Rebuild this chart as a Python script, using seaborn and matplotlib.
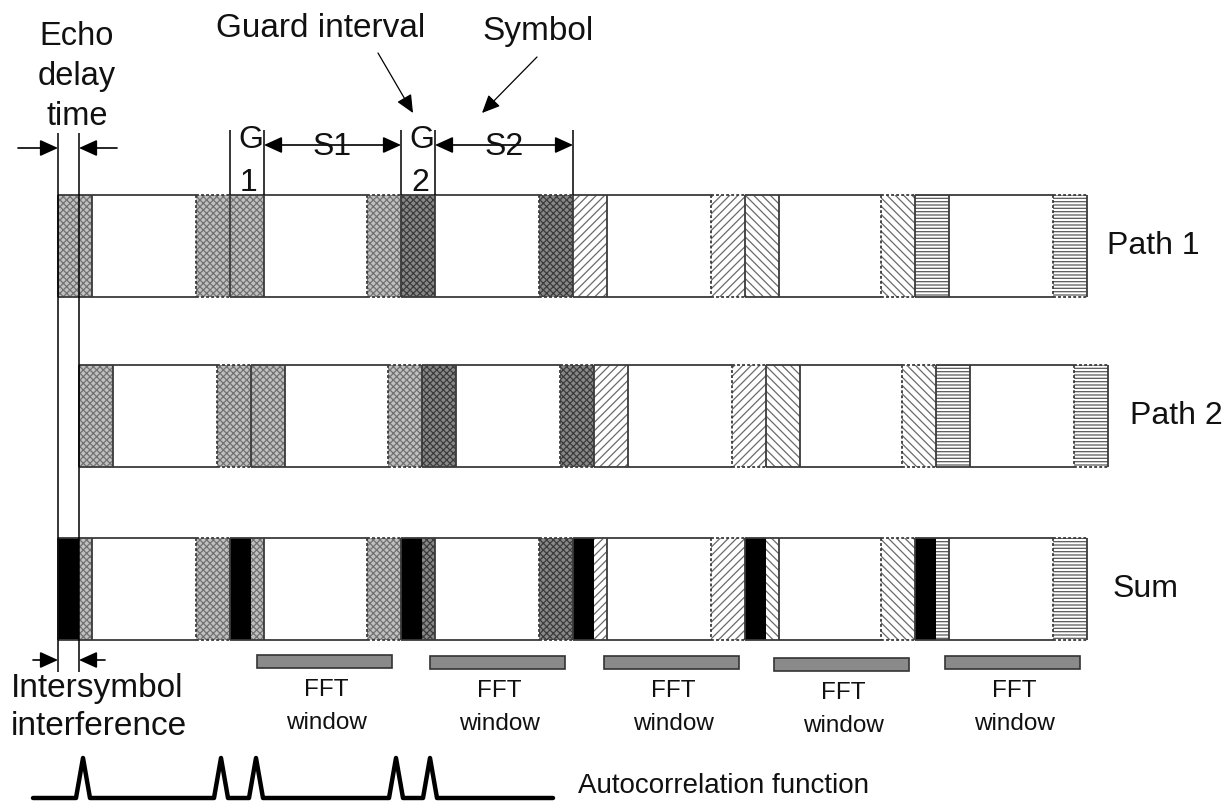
import numpy as np
import pandas as pd
import seaborn as sns
import matplotlib
matplotlib.use("Agg")
import matplotlib.pyplot as plt
from matplotlib.patches import Rectangle

sns.set_theme(style="white")
plt.rcParams["font.family"] = ["Liberation Sans", "DejaVu Sans"]
plt.rcParams["hatch.linewidth"] = 0.9

# ---------------- data (time axis in pixel units of the drawing) ----------------
symbol_starts = [58, 230, 401, 573, 745, 915]      # start of each OFDM symbol on path 1
frame_end = 1087                                   # end of last symbol on path 1
guard_len = 34                                     # guard interval length
echo_delay = 21                                    # delay of path 2
symbol_textures = ["fine", "fine", "dark", "fwd", "back", "horiz"]
row_names = ["Path 1", "Path 2", "Sum"]
row_tops = [195, 365, 538]
row_height = 102
row_label_x = [1107, 1130, 1113]
fft_starts = [257, 430, 604, 774, 945]
fft_len = 135
fft_tops = [655, 656, 656, 658, 656]
acf_peaks = [83, 221, 256, 396, 430]
acf_span = [33, 553]

# ---------------- styles ----------------
TEX = {
    "fine": dict(face="#c0c0c0", hatch="xxxxx", hc="#727272"),
    "dark": dict(face="#888888", hatch="xxxxx", hc="#3c3c3c"),
    "fwd": dict(face="white", hatch="////", hc="#6a6a6a"),
    "back": dict(face="white", hatch="\\\\\\\\", hc="#6a6a6a"),
    "horiz": dict(face="white", hatch="-----", hc="#5a5a5a"),
}
FRAME = "#3a3a3a"
TXT = "#111111"

fig = plt.figure(figsize=(12.28, 8.02), dpi=100)
ax = fig.add_axes([0, 0, 1, 1])


def fill(x0, x1, y0, h, kind):
    if kind == "white":
        ax.add_patch(Rectangle((x0, y0), x1 - x0, h, facecolor="white", edgecolor="none", zorder=1))
    elif kind == "black":
        ax.add_patch(Rectangle((x0, y0), x1 - x0, h, facecolor="black", edgecolor="none", zorder=1))
    else:
        t = TEX[kind]
        ax.add_patch(Rectangle((x0, y0), x1 - x0, h, facecolor=t["face"], edgecolor=t["hc"],
                               hatch=t["hatch"], lw=0, zorder=1))


def hseg(x0, x1, y, ls):
    ax.plot([x0, x1], [y, y], color=FRAME, lw=1.3, ls=ls, solid_capstyle="butt", zorder=3)


def vseg(x, y0, y1, ls, color=FRAME, lw=1.3):
    ax.plot([x, x], [y0, y1], color=color, lw=lw, ls=ls, solid_capstyle="butt", zorder=3)


DOT = (0, (1.6, 1.2))

for r, top in enumerate(row_tops):
    off = echo_delay if r == 1 else 0
    bot = top + row_height
    n = len(symbol_starts)
    for k in range(n):
        s = symbol_starts[k] + off
        e = (symbol_starts[k + 1] if k + 1 < n else frame_end) + off
        tex = symbol_textures[k]
        segs = []
        if r == 2:
            segs.append((s, s + echo_delay, "black", "-"))
            segs.append((s + echo_delay, s + guard_len, tex, "-"))
        else:
            segs.append((s, s + guard_len, tex, "-"))
        segs.append((s + guard_len, e - guard_len, "white", "-"))
        segs.append((e - guard_len, e, tex, DOT))
        for x0, x1, kind, ls in segs:
            fill(x0, x1, top, row_height, kind)
            hseg(x0, x1, top, ls)
            hseg(x0, x1, bot, ls)
        vseg(s, top, bot, "-")
        vseg(s + guard_len, top, bot, "-")
        vseg(e - guard_len, top, bot, DOT)
        if k == n - 1:
            vseg(e, top, bot, "-")
    ax.text(row_label_x[r], top + row_height / 2, row_names[r], fontsize=23, color=TXT,
            ha="left", va="center")

# ---------------- FFT windows ----------------
for x0, y0 in zip(fft_starts, fft_tops):
    ax.add_patch(Rectangle((x0, y0), fft_len, 13, facecolor="#8a8a8a", edgecolor="#333333",
                           lw=1.2, zorder=2))
    cx = x0 + fft_len / 2 + 2
    ax.text(cx, y0 + 41, "FFT", fontsize=17.5, color=TXT, ha="center", va="baseline")
    ax.text(cx, y0 + 74, "window", fontsize=17.5, color=TXT, ha="center", va="baseline")

# ---------------- arrows & markers ----------------
def arrow(tail, tip, lw=1.2, style="-|>"):
    ax.annotate("", xy=tip, xytext=tail, xycoords="data", textcoords="data",
                arrowprops=dict(arrowstyle=f"{style},head_length=0.55,head_width=0.25",
                                color="black", lw=lw, shrinkA=0, shrinkB=0,
                                mutation_scale=20), zorder=4)

x_path1 = symbol_starts[0]
x_path2 = symbol_starts[0] + echo_delay
vseg(x_path1, 133, 672, "-", color="black", lw=1.1)
vseg(x_path2, 133, 672, "-", color="black", lw=1.1)
arrow((x_path1 - 40, 148), (x_path1, 148))
arrow((x_path2 + 38, 148), (x_path2, 148))
arrow((x_path1 - 25, 660), (x_path1, 660))
arrow((x_path2 + 26, 660), (x_path2, 660))

g1, g2, s3 = symbol_starts[1], symbol_starts[2], symbol_starts[3]
for xv in [g1, g1 + guard_len, g2, g2 + guard_len, s3]:
    vseg(xv, 130, row_tops[0], "-", color="black", lw=1.1)
arrow((g1 + guard_len, 145), (g2, 145), style="<|-|>")
arrow((g2 + guard_len, 145), (s3, 145), style="<|-|>")

for gx, num in [(g1, "1"), (g2, "2")]:
    ax.text(gx + guard_len / 2 + 4, 148, "G", fontsize=23, color=TXT, ha="center", va="baseline", zorder=5)
    ax.text(gx + guard_len / 2 + 2, 191, num, fontsize=23, color=TXT, ha="center", va="baseline")
ax.text((g1 + guard_len + g2) / 2, 155, "S1", fontsize=23, color=TXT, ha="center", va="baseline", zorder=5)
ax.text((g2 + guard_len + s3) / 2, 155, "S2", fontsize=23, color=TXT, ha="center", va="baseline", zorder=5)

for yb, word in zip([45, 85, 125], ["Echo", "delay", "time"]):
    ax.text(77, yb, word, fontsize=23.5, color=TXT, ha="center", va="baseline")
ax.text(321, 37, "Guard interval", fontsize=24, color=TXT, ha="center", va="baseline")
ax.text(538, 40, "Symbol", fontsize=24, color=TXT, ha="center", va="baseline")
arrow((378, 53), (g2 + 12, 113), lw=0.9)
arrow((537, 57), (482, 113), lw=0.9)

ax.text(11, 697, "Intersymbol", fontsize=24, color=TXT, ha="left", va="baseline")
ax.text(11, 735, "interference", fontsize=24, color=TXT, ha="left", va="baseline")

# ---------------- autocorrelation function ----------------
xs = [acf_span[0]]
ys = [0.0]
for p in acf_peaks:
    xs += [p - 7, p, p + 7]
    ys += [0.0, 1.0, 0.0]
xs.append(acf_span[1])
ys.append(0.0)
acf = pd.DataFrame({"x": xs, "y": [798 - 40 * v for v in ys]})
sns.lineplot(data=acf, x="x", y="y", sort=False, estimator=None, color="black", lw=3.2, ax=ax)
ax.text(578, 793, "Autocorrelation function", fontsize=20, color=TXT, ha="left", va="baseline")

ax.set_xlim(0, 1228)
ax.set_ylim(802, 0)
ax.set_axis_off()
fig.savefig("out.png", dpi=100)
